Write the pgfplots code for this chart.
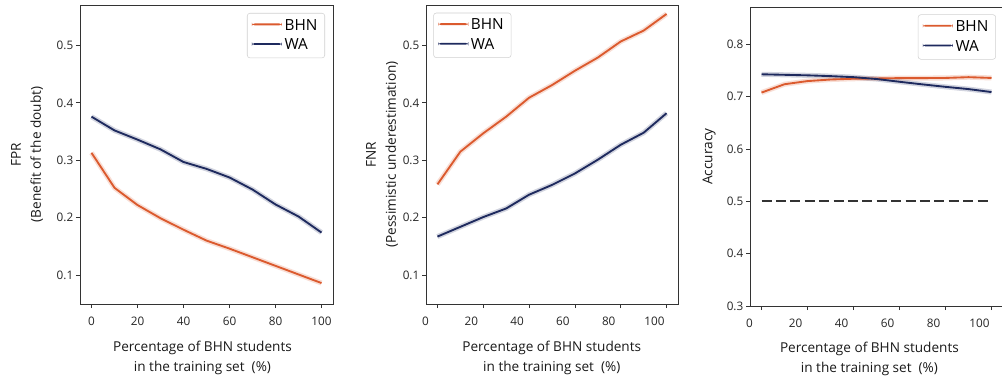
\documentclass[border=0pt]{standalone}
\usepackage{fontspec}
\setmainfont{Open Sans}
\usepackage{pgfplots}
\usepackage{pgfplotstable}
\pgfplotsset{compat=1.18}
\definecolor{bhn}{HTML}{DB5A2E}
\definecolor{wa}{HTML}{1E2A5E}

\pgfplotstableread{
x bhn wa
0 0.313 0.376
10 0.252 0.352
20 0.222 0.336
30 0.199 0.319
40 0.179 0.297
50 0.160 0.285
60 0.146 0.270
70 0.131 0.249
80 0.116 0.223
90 0.101 0.202
100 0.086 0.174
}\fpr

\pgfplotstableread{
x bhn wa
0 0.258 0.167
10 0.315 0.184
20 0.347 0.201
30 0.376 0.216
40 0.409 0.240
50 0.431 0.257
60 0.456 0.277
70 0.479 0.301
80 0.507 0.327
90 0.526 0.348
100 0.555 0.382
}\fnr

\pgfplotstableread{
x bhn wa
0 0.708 0.743
10 0.724 0.742
20 0.730 0.741
30 0.733 0.7395
40 0.7345 0.7375
50 0.735 0.734
60 0.7357 0.7287
70 0.7357 0.7237
80 0.736 0.719
90 0.7375 0.7147
100 0.736 0.709
}\acc

\pgfplotsset{
  panel/.style={
    anchor=south west,
    scale only axis,
    axis line style={black!80, line width=0.6pt},
    tick style={black!80, line width=0.6pt},
    tick align=outside,
    major tick length=3pt,
    xtick pos=bottom, ytick pos=left,
    xmin=-5, xmax=105,
    xtick={0,20,40,60,80,100},
    /pgf/number format/assume math mode=true,
    tick label style={font=\fontsize{8.8}{10}\selectfont, text=black!85},
    xticklabel style={yshift=-3.5pt},
    yticklabel style={xshift=1.5pt, /pgf/number format/.cd, fixed, fixed zerofill, precision=1},
    label style={font=\fontsize{10.2}{15}\selectfont, text=black!90},
    xlabel style={align=center, anchor=north, inner sep=0pt},
    ylabel style={align=center, anchor=south, inner sep=0pt},
    xlabel={Percentage of BHN students\\in the training set\ \ (\%)},
    legend cell align=left,
    legend image code/.code={\fill[#1, draw=none] (0pt,0.3pt) rectangle (22.5pt,1.7pt);},
    legend style={draw=black!18, rounded corners=2pt, fill=white,
      text opacity=1, font=\fontsize{11.5}{13}\selectfont,
      inner xsep=3.5pt, inner ysep=2.5pt, row sep=1pt,
      nodes={inner sep=2pt}},
  },
  band/.style={line width=3.8pt, opacity=0.2, forget plot},
  main/.style={line width=1.4pt},
}

\begin{document}
\begin{tikzpicture}
\path[use as bounding box] (0,0) rectangle (751.5pt,284.25pt);

\begin{axis}[panel,
  at={(60pt,56.25pt)}, width=189.75pt, height=224.25pt,
  ymin=0.0495, ymax=0.5706, ytick={0.1,0.2,0.3,0.4,0.5},
  xlabel style={at={(axis description cs:0.484,0)}, yshift=-27.8pt},
  ylabel={FPR\\(Benefit of the doubt)},
  ylabel style={at={(axis description cs:-0.145,0.5)}},
  legend style={at={(rel axis cs:1,1)}, anchor=north east, xshift=-6pt, yshift=-6pt},
]
\addplot[bhn, band] table[x=x, y=bhn] {\fpr};
\addplot[wa, band] table[x=x, y=wa] {\fpr};
\addplot[bhn, main] table[x=x, y=bhn] {\fpr};
\addlegendentry{BHN}
\addplot[wa, main] table[x=x, y=wa] {\fpr};
\addlegendentry{WA}
\end{axis}

\begin{axis}[panel,
  at={(319.5pt,56.25pt)}, width=189pt, height=224.25pt,
  ymin=0.0495, ymax=0.5706, ytick={0.1,0.2,0.3,0.4,0.5},
  xticklabel style={xshift=-9pt},
  xlabel style={at={(axis description cs:0.499,0)}, yshift=-27.8pt},
  ylabel={FNR\\(Pessimistic underestimation)},
  ylabel style={at={(axis description cs:-0.11,0.5)}},
  legend style={at={(rel axis cs:0,1)}, anchor=north west, xshift=5.5pt, yshift=-5.8pt},
]
\addplot[bhn, band] table[x=x, y=bhn] {\fnr};
\addplot[wa, band] table[x=x, y=wa] {\fnr};
\addplot[bhn, main] table[x=x, y=bhn] {\fnr};
\addlegendentry{BHN}
\addplot[wa, main] table[x=x, y=wa] {\fnr};
\addlegendentry{WA}
\end{axis}

\begin{axis}[panel,
  at={(562.5pt,54.75pt)}, width=189.75pt, height=224pt,
  ymin=0.3, ymax=0.871, ytick={0.3,0.4,0.5,0.6,0.7,0.8},
  xticklabel style={xshift=-9pt},
  xlabel style={at={(axis description cs:0.472,0)}, yshift=-26.5pt},
  ylabel={Accuracy},
  ylabel style={at={(axis description cs:-0.135,0.5)}},
  legend style={at={(rel axis cs:1,1)}, anchor=north east, xshift=-5.3pt, yshift=-5.3pt},
]
\addplot[bhn, band] table[x=x, y=bhn] {\acc};
\addplot[wa, band] table[x=x, y=wa] {\acc};
\addplot[bhn, main] table[x=x, y=bhn] {\acc};
\addlegendentry{BHN}
\addplot[wa, main] table[x=x, y=wa] {\acc};
\addlegendentry{WA}
\addplot[black!80, line width=1.4pt, dash pattern=on 7.5pt off 3.3pt, forget plot] coordinates {(0,0.5) (100,0.5)};
\end{axis}
\end{tikzpicture}
\end{document}
